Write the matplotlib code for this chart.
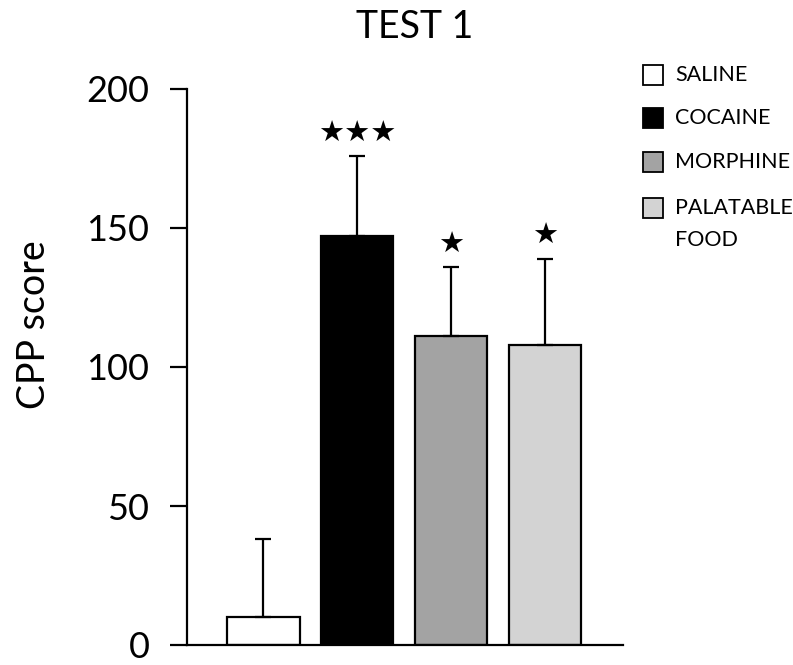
import matplotlib
matplotlib.use("Agg")
import matplotlib.pyplot as plt
from matplotlib.patches import Rectangle

# Data
groups = ["SALINE", "COCAINE", "MORPHINE", "PALATABLE\nFOOD"]
cpp_mean = [10, 147, 111, 108]
cpp_sem = [28, 29, 25, 31]
significance = ["", "★★★", "★", "★"]
bar_colors = ["#ffffff", "#000000", "#a3a3a3", "#d3d3d3"]
y_ticks = [0, 50, 100, 150, 200]

plt.rcParams["font.family"] = ["Lato", "DejaVu Sans"]

fig = plt.figure(figsize=(7.93, 6.65), dpi=100)
ax = fig.add_axes([187 / 793, 20 / 665, 436 / 793, 556 / 665])

x = list(range(len(groups)))
ax.bar(x, cpp_mean, width=0.775, color=bar_colors, edgecolor="black",
       linewidth=1.6, zorder=2)
ax.errorbar(x, cpp_mean, yerr=[[0] * len(x), cpp_sem], fmt="none",
            ecolor="black", elinewidth=1.6, capsize=6, capthick=1.6, zorder=3)

for xi, m, e, s in zip(x, cpp_mean, cpp_sem, significance):
    if s:
        ax.text(xi, m + e + 8, s, ha="center", va="center", fontsize=21,
                family="DejaVu Sans", color="black")

ax.set_xlim(-0.81, 3.83)
ax.set_ylim(0, 200)
ax.set_yticks(y_ticks)
ax.set_xticks([])
ax.tick_params(axis="y", direction="out", length=12, width=1.6,
               labelsize=26, pad=15)
for side in ("top", "right"):
    ax.spines[side].set_visible(False)
for side in ("left", "bottom"):
    ax.spines[side].set_linewidth(1.6)

fig.text(415 / 793, 1 - 27 / 665, "TEST 1", ha="center", va="center",
         fontsize=27)
fig.text(34 / 793, 1 - 325 / 665, "CPP score", ha="center", va="center",
         rotation=90, fontsize=27)

# Legend drawn as figure-level swatches
legend_y = [75, 118, 162, 208]
for label, color, yc in zip(groups, bar_colors, legend_y):
    fig.add_artist(Rectangle((643 / 793, (665 - yc - 10) / 665), 20 / 793,
                             20 / 665, transform=fig.transFigure,
                             facecolor=color, edgecolor="black", linewidth=1.3))
    first, *rest = label.split("\n")
    fig.text(675 / 793, 1 - yc / 665, first, ha="left", va="center",
             fontsize=15.5)
    for k, line in enumerate(rest, start=1):
        fig.text(675 / 793, 1 - (yc + 32 * k) / 665, line, ha="left",
                 va="center", fontsize=15.5)

fig.savefig("out.png", dpi=100, facecolor="white")
